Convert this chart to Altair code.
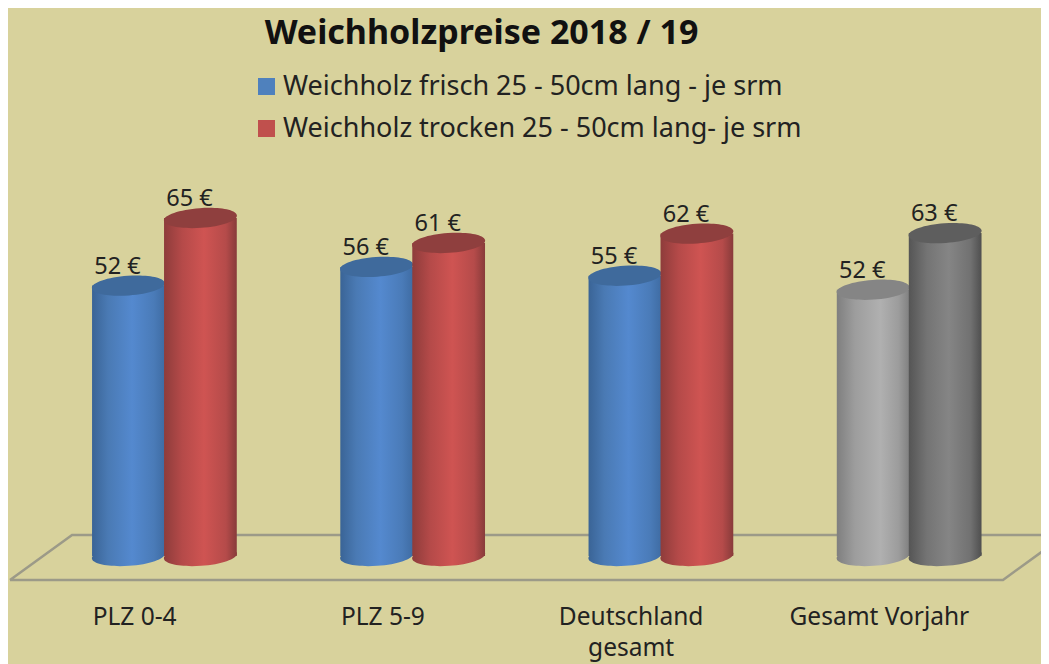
import altair as alt
import pandas as pd

categories = ["PLZ 0-4", "PLZ 5-9", "Deutschland gesamt", "Gesamt Vorjahr"]
frisch_label = [52, 56, 55, 52]
trocken_label = [65, 61, 62, 63]
# bar heights (labels are rounded, the 3D drawing differs slightly)
frisch = [52, 55.6, 53.9, 51.2]
trocken = [65, 60.2, 62, 62.1]
series_names = ["Weichholz frisch 25 - 50cm lang - je srm", "Weichholz trocken 25 - 50cm lang- je srm"]
legend_colors = ["#4f81bd", "#c0504d"]
floor_x = [0, 0.25, 4.25, 4, 0]
floor_y = [-4.6, 4.04, 4.04, -4.6, -4.6]

BG = "#d8d29c"
FONT = "Noto Sans"
TEXT = "#222222"
OFFSET = [0.477, 0.767]
BAR_W = 0.293


def grad(stops):
    return alt.LinearGradient(
        gradient="linear", x1=0, x2=1, y1=0, y2=0,
        stops=[alt.GradientStop(offset=o, color=c) for o, c in stops],
    )


palettes = {
    "fresh": (grad([(0, "#3a6496"), (0.22, "#4a7ab4"), (0.55, "#5489cf"), (0.85, "#4a7bb8"), (1, "#3f6ca3")]), "#3f6a9c"),
    "dry": (grad([(0, "#8e3c3b"), (0.25, "#b54a49"), (0.55, "#cf5452"), (0.85, "#b54b4a"), (1, "#883b3a")]), "#8f3f3e"),
    "prev1": (grad([(0, "#7f7f7f"), (0.25, "#9d9d9d"), (0.6, "#b0b0b0"), (0.85, "#9c9c9c"), (1, "#808080")]), "#858585"),
    "prev2": (grad([(0, "#555555"), (0.25, "#747474"), (0.55, "#858585"), (0.85, "#717171"), (1, "#4f4f4f")]), "#5e5e5e"),
}

rows = []
for i, cat in enumerate(categories):
    prev = cat == "Gesamt Vorjahr"
    rows.append(dict(cat=cat, value=frisch[i], shown=frisch_label[i], kind="prev1" if prev else "fresh", series=series_names[0], pos=i + OFFSET[0]))
    rows.append(dict(cat=cat, value=trocken[i], shown=trocken_label[i], kind="prev2" if prev else "dry", series=series_names[1], pos=i + OFFSET[1]))
df = pd.DataFrame(rows)
df["left"] = df.pos - BAR_W / 2
df["right"] = df.pos + BAR_W / 2
df["zero"] = 0
df["label"] = df.shown.astype(str) + " €"

W, H = 1033, 420
x_scale = alt.Scale(domain=[-0.00806, 4.1531], nice=False, zero=False)
y_scale = alt.Scale(domain=[-6.54, 74.23], nice=False, zero=False)

label_list = ",".join(
    "['Deutschland','gesamt']" if c == "Deutschland gesamt" else repr(c) for c in categories
)
x_axis = alt.Axis(
    values=[0.5, 1.5, 2.5, 3.5], title=None, domain=False, ticks=False, grid=False,
    labelExpr=f"[{label_list}][datum.value-0.5]", labelFont=FONT, labelFontSize=24.5,
    labelColor=TEXT, labelPadding=15, labelOverlap=False, labelFlush=False, labelBound=False,
    labelLineHeight=31, labelAngle=0,
)
X = alt.X("pos:Q", scale=x_scale, axis=x_axis)
Y = alt.Y("value:Q", scale=y_scale, axis=None)

floor = alt.Chart(pd.DataFrame({"x": floor_x, "y": floor_y, "o": range(len(floor_x))})).mark_line(
    color="#9c9a88", strokeWidth=2.5, clip=True
).encode(x=alt.X("x:Q", scale=x_scale, axis=x_axis), y=alt.Y("y:Q", scale=y_scale, axis=None), order="o:Q")

CAP = "M-1,0.07A1,0.27,-4,1,1,1,-0.07A1,0.27,-4,1,1,-1,0.07Z"
CAP_SIZE = 5329
layers = [floor]
for kind, (g, cap) in palettes.items():
    base = alt.Chart(df).transform_filter(alt.datum.kind == kind)
    layers.append(base.mark_bar(fill=g, strokeWidth=0).encode(
        x=alt.X("left:Q", scale=x_scale, axis=x_axis), x2="right:Q", y=alt.Y("value:Q", scale=y_scale, axis=None), y2="zero:Q"))
    layers.append(base.mark_point(shape=CAP, filled=True, fill=g, size=CAP_SIZE, opacity=1, strokeWidth=0).encode(
        x=X, y=alt.Y("zero:Q", scale=y_scale, axis=None)))
    layers.append(base.mark_point(shape=CAP, filled=True, fill=cap, size=CAP_SIZE, opacity=1, strokeWidth=0).encode(x=X, y=Y))

labels = alt.Chart(df).mark_text(font=FONT, fontSize=23.5, color=TEXT, dx=-11, dy=-19).encode(x=X, y=Y, text="label:N")
layers.append(labels)

legend_layer = alt.Chart(df).mark_square(size=0, opacity=1).encode(
    x=X, y=Y,
    color=alt.Color("series:N", scale=alt.Scale(domain=series_names, range=legend_colors), legend=alt.Legend(
        orient="none", legendX=245, legendY=-97, title=None, symbolType="square", symbolSize=289,
        symbolStrokeWidth=0, labelFont=FONT, labelFontSize=27, labelColor=TEXT, labelOffset=3,
        rowPadding=14, labelLimit=700, symbolOpacity=1,
    )),
)
layers.append(legend_layer)

chart = alt.layer(*layers).properties(
    width=W, height=H, background=BG,
    padding={"left": 0, "top": 162, "right": 0, "bottom": 74},
    autosize=alt.AutoSizeParams(type="none"),
    title=alt.TitleParams("Weichholzpreise 2018 / 19", font=FONT, fontSize=34, fontWeight="bold", color="#111111",
                          anchor="middle", dx=-43, offset=22),
).configure_view(stroke=None)

chart.save("out.html", embed_options={"renderer": "svg", "actions": False})
